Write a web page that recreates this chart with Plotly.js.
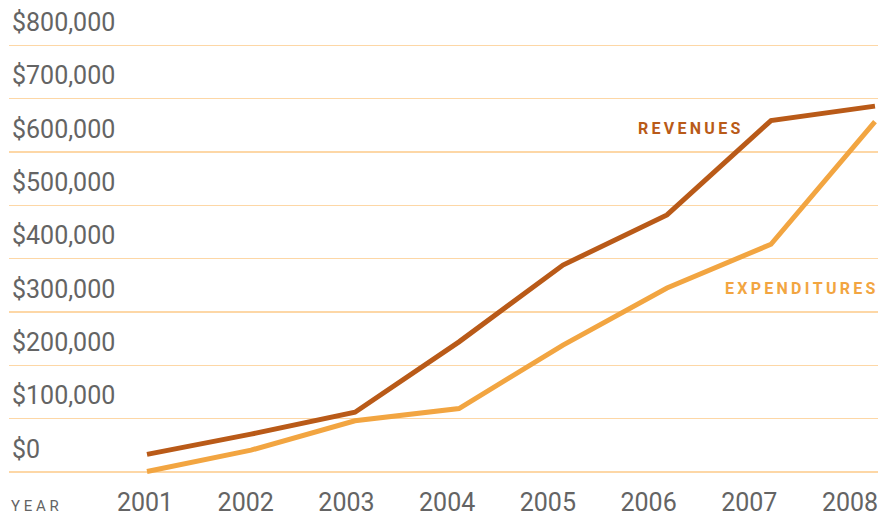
<!DOCTYPE html>
<html>
<head>
<meta charset="utf-8">
<script src="https://cdn.plot.ly/plotly-3.0.1.min.js"></script>
<style>html,body{margin:0;padding:0;background:#fff;}#chart{width:878px;height:514px;}</style>
</head>
<body>
<div id="chart"></div>
<script>
const years = [2001, 2002, 2003, 2004, 2005, 2006, 2007, 2008];
const revenues = [33000, 71000, 112000, 244000, 388000, 482000, 659000, 686000];
const expenditures = [1000, 41000, 96000, 119000, 238000, 345000, 427000, 657000];
const yTickVals = [0, 100000, 200000, 300000, 400000, 500000, 600000, 700000, 800000];
const yTickText = ['$0', '$100,000', '$200,000', '$300,000', '$400,000', '$500,000', '$600,000', '$700,000', '$800,000'];
const yearLabels = ['2001', '2002', '2003', '2004', '2005', '2006', '2007', '2008'];

const revColor = '#b95a18';
const expColor = '#f2a541';
const gridColor = '#fdd7a6';
const textGray = '#646464';
const font = 'Roboto, "Liberation Sans", Arial, sans-serif';

const traces = [
  {x: years, y: expenditures, type: 'scatter', mode: 'lines', name: 'Expenditures',
   line: {color: expColor, width: 5}, hoverinfo: 'skip'},
  {x: years, y: revenues, type: 'scatter', mode: 'lines', name: 'Revenues',
   line: {color: revColor, width: 5}, hoverinfo: 'skip'},
  // invisible helper for the year tick-label axis
  {x: years, y: years.map(() => null), xaxis: 'x2', type: 'scatter', mode: 'lines',
   showlegend: false, hoverinfo: 'skip'}
];

const layout = {
  width: 878, height: 514,
  margin: {l: 9, r: 0, t: 0, b: 24},
  paper_bgcolor: '#fff', plot_bgcolor: '#fff',
  showlegend: false,
  xaxis: {range: [1999.673, 2008.029], showgrid: false, zeroline: false,
          showticklabels: false, ticks: '', showline: false, fixedrange: true},
  xaxis2: {overlaying: 'x', anchor: 'y', side: 'bottom',
           range: [1999.6497, 2008.278], tickvals: years, ticktext: yearLabels,
           showgrid: false, zeroline: false, ticks: '', showline: false,
           ticklabelstandoff: -5, ticklabeloverflow: 'allow',
           tickfont: {family: font, size: 25, color: textGray, weight: 400}},
  yaxis: {range: [-33750, 885000], tickvals: yTickVals, ticktext: yTickText,
          showgrid: true, gridcolor: gridColor, gridwidth: 1.5, zeroline: false,
          ticks: '', showline: false, ticklabelposition: 'inside',
          ticklabelshift: -23, ticklabeloverflow: 'allow',
          tickfont: {family: font, size: 25, color: textGray, weight: 400}},
  annotations: [
    {xref: 'x', yref: 'y', x: 2006.72, y: 645000, xanchor: 'right', yanchor: 'middle',
     text: 'R\u2009E\u2009V\u2009E\u2009N\u2009U\u2009E\u2009S', showarrow: false,
     font: {family: font, size: 16, color: revColor, weight: 700}},
    {xref: 'x', yref: 'y', x: 2008.02, y: 345000, xanchor: 'right', yanchor: 'middle',
     text: 'E\u2009X\u2009P\u2009E\u2009N\u2009D\u2009I\u2009T\u2009U\u2009R\u2009E\u2009S', showarrow: false,
     font: {family: font, size: 16, color: expColor, weight: 700}},
    {xref: 'paper', yref: 'paper', x: 0, y: -0.033, xanchor: 'left', yanchor: 'middle',
     text: 'Y E A R', showarrow: false,
     font: {family: font, size: 15, color: textGray, weight: 400}}
  ]
};

Plotly.newPlot('chart', traces, layout, {displayModeBar: false, staticPlot: true});
</script>
</body>
</html>
